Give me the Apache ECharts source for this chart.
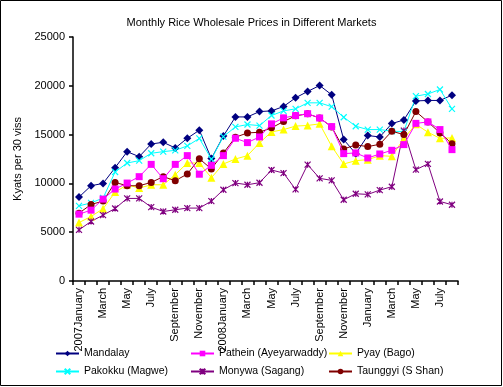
<!DOCTYPE html>
<html>
<head>
<meta charset="utf-8">
<script src="https://cdn.jsdelivr.net/npm/echarts@6/dist/echarts.min.js"></script>
<style>
html,body{margin:0;padding:0;background:#fff;}
#c{width:503px;height:387px;}
</style>
</head>
<body>
<div id="c"></div>
<script>
const categories = [
  "2007January","February","March","April","May","June","July","August","September","October","November","December",
  "2008January","February","March","April","May","June","July","August","September","October","November","December",
  "January","February","March","April","May","June","July","August"
];
const mandalay = [8600,9760,10000,11610,13250,12740,14040,14210,13630,14625,15450,12540,14860,16810,16810,17360,17430,17880,18770,19420,20030,19080,14490,13050,14900,14760,16130,16500,18450,18500,18500,19040];
const pathein  = [6850,7260,8390,9420,10035,10690,11950,10480,11950,12845,10940,11850,12845,14625,14180,14760,16100,16715,16950,17140,16700,15820,13050,13120,12605,13015,13390,13975,16150,16300,15515,13460];
const pyay     = [5990,6610,7400,9110,9860,9520,9860,9860,10890,12090,12090,10580,11990,12500,12845,14145,15275,15515,15870,15940,16100,13800,11990,12330,12430,12845,12775,14600,16060,15240,14620,14660];
const pakokku  = [7700,8000,8500,11165,12090,12330,13085,13255,13390,13840,14610,12500,14795,15790,16030,15925,16955,17430,17640,18255,18255,17860,16780,15860,15515,15515,15345,15310,18940,19160,19625,17640];
const monywa   = [5240,6100,6750,7430,8460,8460,7570,7120,7300,7470,7470,8185,9350,10035,9865,10070,11370,11060,9385,11920,10515,10310,8320,8940,8870,9315,9660,15410,11405,12000,8150,7810];
const taunggyi = [6950,7840,8185,10100,9760,9760,10100,10690,10275,10960,12535,11475,13120,14730,15170,15240,15690,16340,16920,17125,16700,15790,13530,13940,13770,14010,15345,15000,17365,16300,15175,14075];
const yTicks = {min:0, max:25000, interval:5000};

const FONT = "Liberation Sans, Arial, sans-serif";
const xPath = 'path://M0,0L10,10M10,0L0,10';
const starPath = 'path://M0,0L10,10M10,0L0,10M5,0L5,10';

function mk(name, data, color, symbol, size, strokeSym, z) {
  return {
    name: name, type: 'line', data: data, symbol: symbol, symbolSize: size,
    showSymbol: true, z: z,
    lineStyle: {color: color, width: 1},
    itemStyle: strokeSym ? {color: color, borderColor: color, borderWidth: 1.2} : {color: color},
    emphasis: {disabled: true},
    animation: false
  };
}

function leg(name, left, top) {
  return {
    show: true, orient: 'horizontal', left: left, top: top,
    itemWidth: 23, itemHeight: 7, itemGap: 4, padding: 0,
    textStyle: {fontFamily: FONT, fontSize: 10.5, color: '#000'},
    data: [name], selectedMode: false
  };
}

const chart = echarts.init(document.getElementById('c'), null, {renderer:'canvas'});
chart.setOption({
  backgroundColor: '#fff',
  animation: false,
  title: {
    text: 'Monthly Rice Wholesale Prices in Different Markets',
    left: 'center', top: 12,
    textStyle: {fontFamily: FONT, fontSize: 11, fontWeight: 'normal', color: '#000'}
  },
  graphic: [{type:'rect', shape:{x:0.5,y:0.5,width:501,height:385}, style:{fill:'none', stroke:'#000', lineWidth:1}, silent:true}],
  legend: [
    leg('Mandalay', 55, 348),
    leg('Pathein (Ayeyarwaddy)', 190, 348),
    leg('Pyay (Bago)', 328, 348),
    leg('Pakokku (Magwe)', 55, 366),
    leg('Monywa (Sagang)', 190, 366),
    leg('Taunggyi (S Shan)', 328, 366)
  ],
  grid: {left: 73, right: 45, top: 37, bottom: 106, containLabel: false},
  xAxis: {
    type: 'category', data: categories, boundaryGap: true,
    axisLine: {lineStyle: {color: '#000', width: 1.5}},
    axisTick: {show: true, alignWithLabel: false, interval: 0, length: 4, lineStyle: {color:'#000', width: 1.5}},
    axisLabel: {interval: 1, rotate: 90, fontFamily: FONT, fontSize: 11, color: '#000', margin: 7},
    splitLine: {show: false}
  },
  yAxis: {
    type: 'value', min: yTicks.min, max: yTicks.max, interval: yTicks.interval,
    name: 'Kyats per 30 viss', nameLocation: 'middle', nameRotate: 90, nameGap: 43,
    nameTextStyle: {fontFamily: FONT, fontSize: 11, color: '#000'},
    axisLine: {show: true, lineStyle: {color: '#000', width: 1.5}},
    axisTick: {show: true, length: 4, lineStyle: {color:'#000', width: 1.5}},
    axisLabel: {fontFamily: FONT, fontSize: 11, color: '#000', margin: 8, formatter: function(v){ return String(v); }},
    splitLine: {show: false}
  },
  series: [
    mk('Mandalay', mandalay, '#000080', 'diamond', 8, false, 2),
    mk('Pathein (Ayeyarwaddy)', pathein, '#FF00FF', 'rect', 7, false, 3),
    mk('Pyay (Bago)', pyay, '#FFFF00', 'triangle', 8, false, 2),
    mk('Pakokku (Magwe)', pakokku, '#00FFFF', xPath, 6, true, 2),
    mk('Monywa (Sagang)', monywa, '#800080', starPath, 6, true, 2),
    mk('Taunggyi (S Shan)', taunggyi, '#800000', 'circle', 7, false, 2)
  ]
});
</script>
</body>
</html>
